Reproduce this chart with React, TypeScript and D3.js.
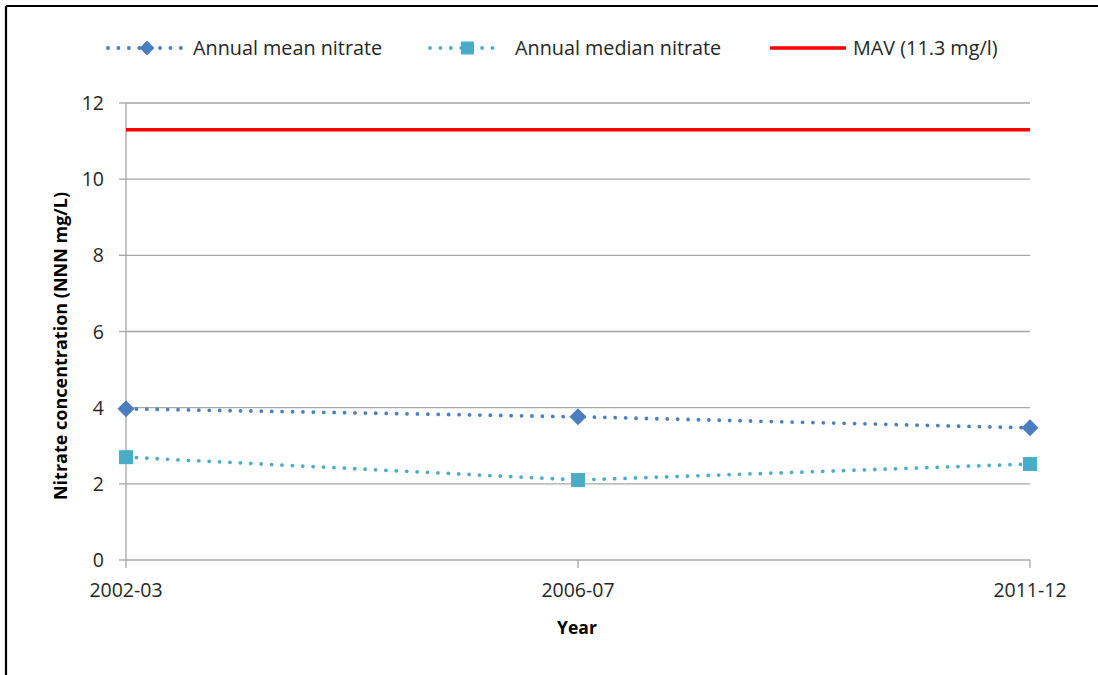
import React from "react";
import * as d3 from "d3";

const years = ["2002-03", "2006-07", "2011-12"];
const meanNitrate = [3.97, 3.76, 3.47];
const medianNitrate = [2.7, 2.1, 2.52];
const mav = 11.3;
const yTicks = [0, 2, 4, 6, 8, 10, 12];

const W = 1098;
const H = 675;
const M = { left: 126, right: 1030, top: 103, bottom: 560 };
const FONT = "'Open Sans', 'DejaVu Sans', sans-serif";
const MEAN_COLOR = "#4A7EBF";
const MEDIAN_COLOR = "#4BACC6";
const MAV_COLOR = "#FF0000";
const GRID = "#A6A6A6";

export default function App() {
  const x = d3.scalePoint<string>().domain(years).range([M.left, M.right]);
  const y = d3.scaleLinear().domain([0, 12]).range([M.bottom, M.top]);

  const line = d3
    .line<number>()
    .x((_, i) => x(years[i]) as number)
    .y((d) => y(d));

  const dotted = {
    fill: "none",
    strokeWidth: 3.8,
    strokeLinecap: "round" as const,
    strokeDasharray: "0.01 10.4",
  };

  const diamond = (cx: number, cy: number, r = 8.5) =>
    `M${cx},${cy - r}L${cx + r},${cy}L${cx},${cy + r}L${cx - r},${cy}Z`;

  const legendY = 48;

  return (
    <svg
      width={W}
      height={H}
      style={{ position: "absolute", left: 0, top: 0, background: "#fff" }}
      fontFamily={FONT}
    >
      <rect x={0} y={0} width={W} height={H} fill="#fff" />
      {/* chart frame */}
      <line x1={6} y1={6} x2={W} y2={6} stroke="#000" strokeWidth={2.2} />
      <line x1={6} y1={6} x2={6} y2={H} stroke="#000" strokeWidth={2.2} />

      {/* legend */}
      <g>
        <line x1={108} x2={184} y1={legendY} y2={legendY} stroke={MEAN_COLOR} {...dotted} />
        <path d={diamond(147, legendY, 7.5)} fill={MEAN_COLOR} />
        <text x={193} y={legendY + 7} fontSize={19.8} fill="#262626">
          Annual mean nitrate
        </text>
        <line x1={430} x2={500} y1={legendY} y2={legendY} stroke={MEDIAN_COLOR} {...dotted} />
        <rect x={461} y={legendY - 6.5} width={13} height={13} fill={MEDIAN_COLOR} />
        <text x={515} y={legendY + 7} fontSize={19.8} fill="#262626">
          Annual median nitrate
        </text>
        <line x1={770} x2={846} y1={legendY} y2={legendY} stroke={MAV_COLOR} strokeWidth={3.5} />
        <text x={853} y={legendY + 7} fontSize={19.8} fill="#262626">
          MAV (11.3 mg/l)
        </text>
      </g>

      {/* horizontal gridlines and y ticks */}
      {yTicks.map((t) => (
        <g key={t}>
          <line x1={M.left} x2={M.right} y1={y(t)} y2={y(t)} stroke={GRID} strokeWidth={1.3} />
          <line x1={M.left - 7} x2={M.left} y1={y(t)} y2={y(t)} stroke={GRID} strokeWidth={1.3} />
          <text x={104} y={y(t) + 7} fontSize={19.5} textAnchor="end" fill="#262626">
            {t}
          </text>
        </g>
      ))}

      {/* y axis */}
      <line x1={M.left} x2={M.left} y1={M.top} y2={M.bottom + 1} stroke={GRID} strokeWidth={1.3} />

      {/* x ticks and labels */}
      {years.map((yr) => (
        <g key={yr}>
          <line
            x1={x(yr)}
            x2={x(yr)}
            y1={M.bottom}
            y2={M.bottom + 8}
            stroke={GRID}
            strokeWidth={1.3}
          />
          <text x={x(yr)} y={597} fontSize={19.5} textAnchor="middle" fill="#262626">
            {yr}
          </text>
        </g>
      ))}

      {/* axis titles */}
      <text x={577} y={634} fontSize={17.5} fontWeight="bold" textAnchor="middle" fill="#000">
        Year
      </text>
      <text
        transform="translate(67, 346) rotate(-90)"
        fontSize={18}
        fontWeight="bold"
        textAnchor="middle"
        fill="#000"
      >
        Nitrate concentration (NNN mg/L)
      </text>

      {/* MAV reference */}
      <line
        x1={M.left}
        x2={M.right}
        y1={y(mav)}
        y2={y(mav)}
        stroke={MAV_COLOR}
        strokeWidth={3.5}
      />

      {/* mean series */}
      <path d={line(meanNitrate) ?? ""} stroke={MEAN_COLOR} {...dotted} />
      {meanNitrate.map((v, i) => (
        <path key={i} d={diamond(x(years[i]) as number, y(v))} fill={MEAN_COLOR} />
      ))}

      {/* median series */}
      <path d={line(medianNitrate) ?? ""} stroke={MEDIAN_COLOR} {...dotted} />
      {medianNitrate.map((v, i) => (
        <rect
          key={i}
          x={(x(years[i]) as number) - 7}
          y={y(v) - 7}
          width={14}
          height={14}
          fill={MEDIAN_COLOR}
        />
      ))}
    </svg>
  );
}
